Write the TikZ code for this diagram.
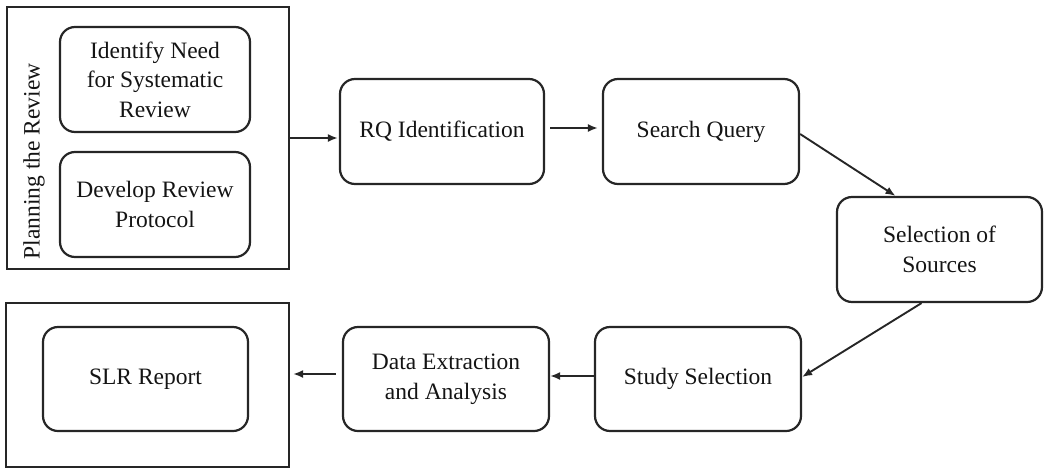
\documentclass[tikz,border=0pt]{standalone}
\usepackage{fontspec}
\setmainfont{Liberation Serif}
\newfontfamily\boxfont{Liberation Serif}
\usetikzlibrary{arrows.meta}
\begin{document}
\begin{tikzpicture}[x=1pt,y=-1pt,
  every node/.style={font=\boxfont\fontsize{23.5}{29.5}\selectfont, text=black!92},
  stage/.style={draw=black!85, line width=2.2pt, rounded corners=15pt,
    align=center, inner sep=0pt, minimum height=105pt},
  frame/.style={draw=black!85, line width=2.2pt, inner sep=0pt},
  arr/.style={draw=black!85, line width=1.9pt, -{Latex[length=10pt,width=8pt]}}]
\useasboundingbox (0,0) rectangle (1044,469);

% planning phase
\node[frame, minimum width=282pt, minimum height=262pt] (plan) at (148,138) {};
\node[rotate=90] (plantitle) at (34,161.5) {Planning the Review};
\node[stage, minimum width=190pt] (need) at (155,79.5) {Identify Need\\for Systematic\\Review};
\node[stage, minimum width=190pt] (protocol) at (155,204.5) {Develop Review\\Protocol};

% conducting the review
\node[stage, minimum width=204pt] (rq) at (442,131.5) {RQ Identification};
\node[stage, minimum width=196pt] (query) at (701,131.5) {Search Query};
\node[stage, minimum width=205pt] (sources) at (939.5,249.5) {Selection of\\Sources};
\node[stage, minimum width=206pt, minimum height=104pt] (study) at (698,379) {Study Selection};
\node[stage, minimum width=206pt, minimum height=104pt] (extract) at (446,379) {Data Extraction\\and Analysis};

% reporting
\node[frame, minimum width=283pt, minimum height=164pt] (report) at (147.5,385) {};
\node[stage, minimum width=205pt, minimum height=104pt] (slr) at (145.5,379) {SLR Report};

% flow
\draw[arr, shorten >=1pt] (plan.east) -- (plan.east -| rq.west);
\draw[arr, shorten <=5pt, shorten >=4pt] ([yshift=3.5pt]rq.east) -- ([yshift=3.5pt]query.west);
\draw[arr] ([yshift=-2.5pt]query.east) -- ([xshift=-44pt]sources.north);
\draw[arr] ([xshift=-18pt]sources.south) -- ([yshift=2pt]study.east);
\draw[arr] ([yshift=3pt]study.west) -- ([yshift=3pt]extract.east);
\draw[arr, shorten <=6pt, shorten >=3pt] ([yshift=5pt]extract.west) -- ([yshift=5pt]extract.west -| report.east);
\end{tikzpicture}
\end{document}
